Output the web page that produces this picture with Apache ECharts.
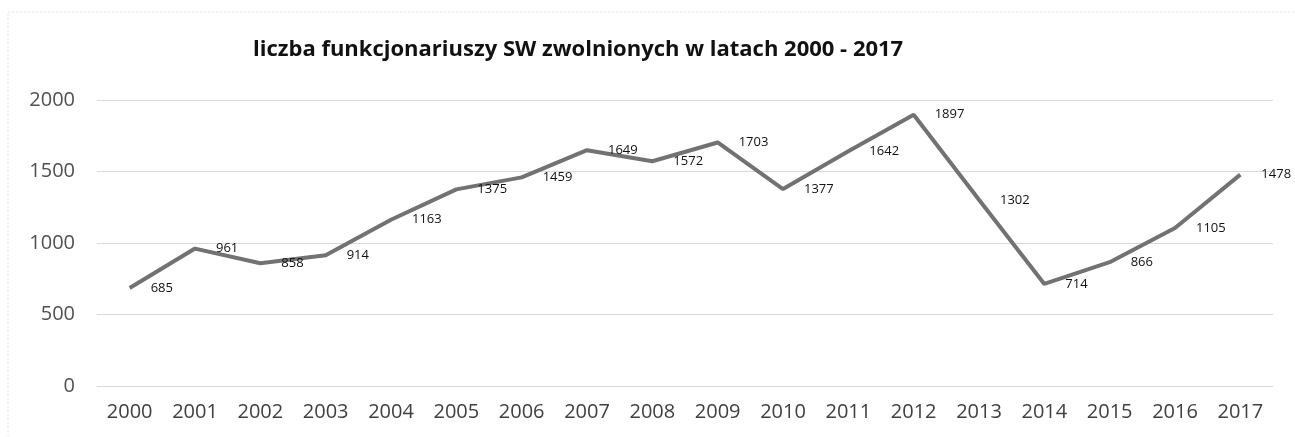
<html>
<head>
    <title>liczba funkcjonariuszy SW</title>
    <style>
        * { margin: 0; padding: 0; }
        #chart-container { width: 1295px; height: 437px; background: #fff; }
    </style>
</head>
<body>
<div id="chart-container"></div>
<script src="https://cdn.jsdelivr.net/npm/echarts@6.0.0/dist/echarts.min.js"></script>
<script>
    const years = ['2000', '2001', '2002', '2003', '2004', '2005', '2006', '2007', '2008',
        '2009', '2010', '2011', '2012', '2013', '2014', '2015', '2016', '2017'];
    const dismissed = [685, 961, 858, 914, 1163, 1375, 1459, 1649, 1572,
        1703, 1377, 1642, 1897, 1302, 714, 866, 1105, 1478];
    const yTicks = [0, 500, 1000, 1500, 2000];

    var myChart = echarts.init(document.getElementById('chart-container'), null, {renderer: 'canvas'});

    var option = {
        animation: false,
        title: {
            text: 'liczba funkcjonariuszy SW zwolnionych w latach 2000 - 2017',
            left: 248,
            top: 24,
            textStyle: {
                fontFamily: 'Open Sans',
                fontWeight: 'bold',
                fontSize: 22,
                color: '#111'
            }
        },
        graphic: [{
            type: 'rect',
            shape: {x: 8, y: 12, width: 1300, height: 440},
            style: {fill: 'none', stroke: '#e2e2e2', lineWidth: 1, lineDash: [2, 2]}
        }],
        grid: {left: 97, right: 22, top: 100, bottom: 51, containLabel: false},
        xAxis: {
            type: 'category',
            data: years,
            boundaryGap: true,
            axisLine: {show: false},
            axisTick: {show: false},
            axisLabel: {
                fontFamily: 'Open Sans',
                fontSize: 20,
                color: '#404040',
                margin: 10
            }
        },
        yAxis: {
            type: 'value',
            min: yTicks[0],
            max: yTicks[yTicks.length - 1],
            interval: 500,
            axisLine: {show: false},
            axisTick: {show: false},
            splitLine: {lineStyle: {color: '#d9d9d9', width: 1}},
            axisLabel: {
                fontFamily: 'Open Sans',
                fontSize: 20,
                color: '#505050',
                margin: 22,
                formatter: function (v) { return String(v); }
            }
        },
        series: [{
            type: 'line',
            data: dismissed,
            showSymbol: true,
            symbol: 'circle',
            symbolSize: 2,
            itemStyle: {color: 'rgba(0,0,0,0)'},
            lineStyle: {color: '#727272', width: 4},
            label: {
                show: true,
                position: 'right',
                distance: 20,
                fontFamily: 'Open Sans',
                fontSize: 13,
                color: '#111'
            }
        }]
    };

    myChart.setOption(option);
</script>
</body>
</html>
